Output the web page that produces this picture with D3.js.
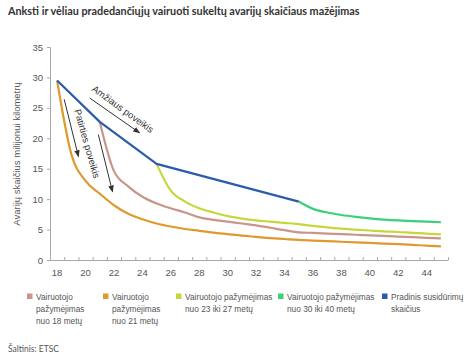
<!DOCTYPE html>
<html><head><meta charset="utf-8">
<script src="https://cdn.jsdelivr.net/npm/d3@7/dist/d3.min.js"></script>
<style>body{margin:0;background:#fff}svg{display:block}</style>
</head><body>
<script>
const title = "Anksti ir vėliau pradedančiųjų vairuoti sukeltų avarijų skaičiaus mažėjimas";
const yAxisTitle = "Avarijų skaičius milijonui kilometrų";
const source = "Šaltinis: ETSC";
const xLabels = [18,20,22,24,26,28,30,32,34,36,38,40,42,44];
const yTicks = [0,5,10,15,20,25,30,35];

// Pradinis susidūrimų skaičius (blue, straight segments)
const blueAges = [18,21,25,35];
const blueValues = [29.5,22.7,15.8,9.6];
// curve starting at 18 (orange)
const orangeAges = [18,19,20,21,22,23,24,25,26,27,28,29,30,31,32,33,34,35,36,37,38,39,40,41,42,43,44,45];
const orangeValues = [29.5,17.4,13.0,10.9,9.0,7.6,6.7,6.0,5.5,5.1,4.8,4.5,4.25,4.0,3.8,3.6,3.45,3.3,3.2,3.1,3.0,2.9,2.8,2.7,2.6,2.5,2.35,2.25];
// curve starting at 21 (brown)
const brownAges = [21,22,23,24,25,26,27,28,29,30,31,32,33,34,35,36,37,38,39,40,41,42,43,44,45];
const brownValues = [22.7,14.6,12.1,10.4,9.3,8.5,7.8,7.0,6.6,6.3,6.0,5.7,5.3,4.9,4.55,4.45,4.35,4.25,4.15,4.05,3.95,3.85,3.75,3.65,3.55];
// curve starting at 25 (yellow-green)
const yellowAges = [25,26,27,28,29,30,31,32,33,34,35,36,37,38,39,40,41,42,43,44,45];
const yellowValues = [15.8,11.4,9.6,8.5,7.8,7.2,6.8,6.5,6.3,6.1,5.9,5.6,5.35,5.15,5.0,4.85,4.7,4.6,4.45,4.35,4.2];
// curve starting at 35 (green)
const greenAges = [35,36,37,38,39,40,41,42,43,44,45];
const greenValues = [9.6,8.4,7.8,7.4,7.1,6.85,6.65,6.5,6.4,6.3,6.2];

const legendColors = ["#c9958a","#de9a2e","#c6d73c","#3ccf7c","#2a5caa"];
const legendLines = [
  ["Vairuotojo","pažymėjimas","nuo 18 metų"],
  ["Vairuotojo","pažymėjimas","nuo 21 metų"],
  ["Vairuotojo pažymėjimas","nuo 23 iki 27 metų"],
  ["Vairuotojo pažymėjimas","nuo 30 iki 40 metų"],
  ["Pradinis susidūrimų","skaičius"]
];

const W = 474, H = 356;
const svg = d3.select("body").append("svg").attr("width", W).attr("height", H);

const x = d3.scaleLinear().domain([17.5, 45.5]).range([50, 448]);
const y = d3.scaleLinear().domain([0, 35]).range([260, 47]);

const tt = svg.append("text").attr("x", 8).attr("y", 15)
  .attr("font-family", "Lato").attr("font-weight", "bold").attr("font-size", 11.6)
  .attr("fill", "#333").text(title);
const tw = tt.node().getComputedTextLength();
tt.attr("font-size", 11.6 * 352 / tw);

// Y axis
const yAxis = svg.append("g").attr("transform", "translate(50,0)")
  .call(d3.axisLeft(y).tickValues(yTicks).tickSize(3).tickPadding(4));
yAxis.select(".domain").attr("stroke", "#aaa");
yAxis.selectAll(".tick line").attr("stroke", "#aaa");
yAxis.selectAll(".tick text").attr("font-family", "Liberation Sans").attr("font-size", 9.5).attr("fill", "#555");

// X axis
const boundaries = d3.range(18.5, 45.6, 1);
const xAxis = svg.append("g").attr("transform", "translate(0,260)")
  .call(d3.axisBottom(x).tickValues(boundaries).tickSize(-3).tickSizeOuter(0).tickFormat(""));
xAxis.select(".domain").attr("stroke", "#aaa");
xAxis.selectAll(".tick line").attr("stroke", "#aaa");
svg.append("g").selectAll("text").data(xLabels).join("text")
  .attr("x", d => x(d)).attr("y", 276).attr("text-anchor", "middle")
  .attr("font-family", "Liberation Sans").attr("font-size", 9.5).attr("fill", "#555")
  .text(d => d);

svg.append("text").attr("transform", "translate(20,154) rotate(-90)")
  .attr("text-anchor", "middle").attr("font-family", "Liberation Sans").attr("font-size", 9.5)
  .attr("fill", "#555").text(yAxisTitle);

// lines
const mk = (ages, vals) => ages.map((a, i) => [a, vals[i]]);
const smooth = d3.line().x(d => x(d[0])).y(d => y(d[1])).curve(d3.curveMonotoneX);
const straight = d3.line().x(d => x(d[0])).y(d => y(d[1]));
const series = [
  {d: mk(orangeAges, orangeValues), c: legendColors[1], g: smooth},
  {d: mk(brownAges, brownValues), c: legendColors[0], g: smooth},
  {d: mk(yellowAges, yellowValues), c: legendColors[2], g: smooth},
  {d: mk(greenAges, greenValues), c: legendColors[3], g: smooth},
  {d: mk(blueAges, blueValues), c: legendColors[4], g: straight}
];
svg.append("g").selectAll("path").data(series).join("path")
  .attr("d", s => s.g(s.d)).attr("fill", "none").attr("stroke", s => s.c)
  .attr("stroke-width", 2.2).attr("stroke-linejoin", "round");

// annotations (in data space)
const defs = svg.append("defs");
defs.append("marker").attr("id", "ah").attr("viewBox", "0 0 10 10").attr("refX", 9).attr("refY", 5)
  .attr("markerWidth", 7).attr("markerHeight", 7).attr("orient", "auto")
  .append("path").attr("d", "M0,1 L10,5 L0,9 Z").attr("fill", "#333");
const arrows = [
  [[20.3, 26.6], [23.8, 20.9]],
  [[18.5, 26.4], [19.5, 17.0]],
  [[20.9, 20.6], [21.9, 11.2]]
];
svg.append("g").selectAll("line").data(arrows).join("line")
  .attr("x1", d => x(d[0][0])).attr("y1", d => y(d[0][1]))
  .attr("x2", d => x(d[1][0])).attr("y2", d => y(d[1][1]))
  .attr("stroke", "#333").attr("stroke-width", 1).attr("marker-end", "url(#ah)");
const notes = [
  {t: "Amžiaus poveikis", a: 20.4, v: 27.9, r: 36},
  {t: "Patirties poveikis", a: 19.2, v: 24.6, r: 74}
];
svg.append("g").selectAll("text").data(notes).join("text")
  .attr("transform", d => `translate(${x(d.a)},${y(d.v)}) rotate(${d.r})`)
  .attr("font-family", "Liberation Sans").attr("font-size", 9.5).attr("fill", "#333")
  .text(d => d.t);

// legend
const legX = [27, 103, 176, 278, 382];
const lg = svg.append("g").selectAll("g").data(legendLines).join("g")
  .attr("transform", (d, i) => `translate(${legX[i]},294)`);
lg.append("rect").attr("x", 0).attr("y", -0.5).attr("width", 5.5).attr("height", 5.5)
  .attr("fill", (d, i) => legendColors[i]);
lg.each(function(lines) {
  d3.select(this).selectAll("text").data(lines).join("text")
    .attr("x", 9).attr("y", (l, j) => 6 + j * 11.8)
    .attr("font-family", "Liberation Sans").attr("font-size", 8.3).attr("fill", "#555")
    .text(l => l);
});

svg.append("text").attr("x", 8).attr("y", 352).attr("font-family", "Lato")
  .attr("font-size", 8.5).attr("fill", "#555").text(source);
</script>
</body></html>
